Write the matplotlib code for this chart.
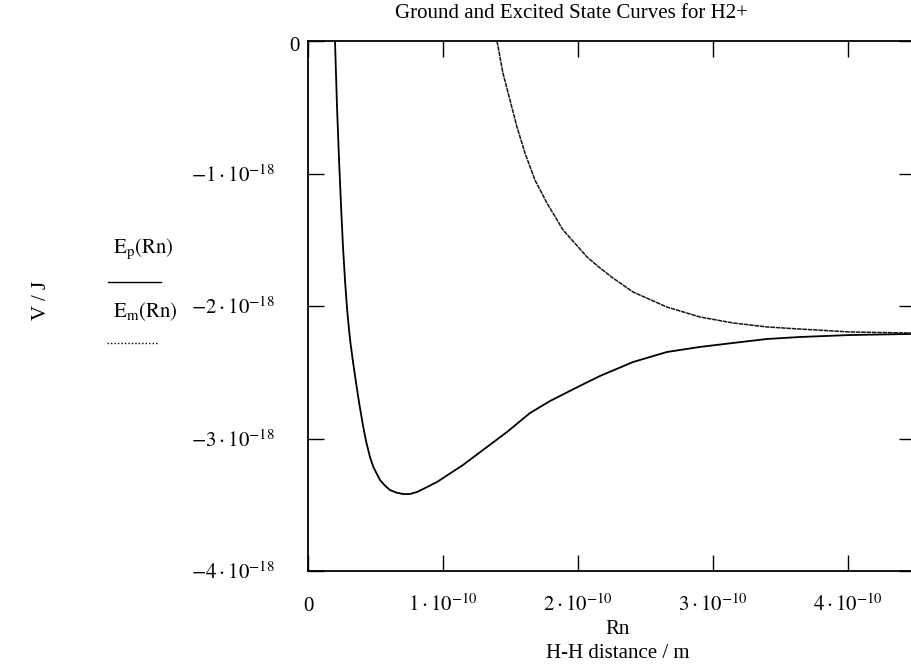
import numpy as np
import matplotlib.pyplot as plt
from matplotlib.lines import Line2D
from matplotlib.transforms import ScaledTranslation

plt.rcParams['font.family'] = ['Liberation Serif', 'DejaVu Serif']
plt.rcParams['mathtext.fontset'] = 'stix'

# ground state curve E_p, R in 1e-10 m, E in 1e-18 J
R_p = [0.200, 0.215, 0.230, 0.245, 0.259, 0.275, 0.290, 0.304, 0.316, 0.333, 0.356, 0.380,
       0.407, 0.430, 0.459, 0.484, 0.533, 0.570, 0.607, 0.657, 0.704, 0.756, 0.807,
       0.879, 0.956, 1.148, 1.326, 1.474, 1.644, 1.793, 2.000, 2.163, 2.407,
       2.659, 2.904, 3.148, 3.400, 3.644, 4.015, 4.467]
E_p = [0.0, -0.500, -0.900, -1.250, -1.550, -1.820, -2.030, -2.181, -2.290, -2.420, -2.580, -2.740,
       -2.900, -3.020, -3.140, -3.215, -3.313, -3.355, -3.389, -3.409, -3.419, -3.419, -3.404,
       -3.368, -3.328, -3.200, -3.064, -2.951, -2.808, -2.717, -2.610, -2.528, -2.423,
       -2.347, -2.309, -2.279, -2.249, -2.234, -2.219, -2.211]

# excited state curve E_m
R_m = [1.400, 1.444, 1.496, 1.548, 1.607, 1.681, 1.770, 1.889, 2.067, 2.163,
       2.259, 2.407, 2.659, 2.904, 3.148, 3.400, 3.644, 4.015, 4.467]
E_m = [0.0, -0.242, -0.445, -0.649, -0.845, -1.049, -1.223, -1.426, -1.630, -1.713,
       -1.789, -1.894, -2.008, -2.083, -2.128, -2.158, -2.174, -2.196, -2.204]

x_ticks = [0, 1e-10, 2e-10, 3e-10, 4e-10]
x_labels = ["0", r"$1\cdot10^{-10}$", r"$2\cdot10^{-10}$", r"$3\cdot10^{-10}$", r"$4\cdot10^{-10}$"]
y_ticks = [0, -1e-18, -2e-18, -3e-18, -4e-18]
y_labels = ["0", r"$-1\cdot10^{-18}$", r"$-2\cdot10^{-18}$", r"$-3\cdot10^{-18}$", r"$-4\cdot10^{-18}$"]

W, H = 911, 670
fig = plt.figure(figsize=(W / 100, H / 100), dpi=100)
ax = fig.add_axes([308 / W, 1 - 571 / H, 607.5 / W, 530 / H])

ax.plot(np.array(R_p) * 1e-10, np.array(E_p) * 1e-18, color='black', lw=1.3)
ax.plot(np.array(R_m) * 1e-10, np.array(E_m) * 1e-18, color='#151515', lw=1.1,
        linestyle=(0, (3, 0.5)))

ax.set_xlim(0, 4.5e-10)
ax.set_ylim(-4e-18, 0)
ax.set_xticks(x_ticks)
ax.set_xticklabels(x_labels)
ax.set_yticks(y_ticks)
ax.set_yticklabels(y_labels)

for s in ax.spines.values():
    s.set_linewidth(1.3)
ax.spines['right'].set_visible(False)

ax.tick_params(direction='in', length=11.5, width=1.0, top=True, right=True,
               labelsize=15, colors='black')
ax.tick_params(axis='y', pad=24)
ax.tick_params(axis='x', pad=29)
for lab in ax.get_xticklabels():
    lab.set_verticalalignment('baseline')
# the "0" on the y axis sits closer to the axis
ylab0 = ax.get_yticklabels()[0]
ylab0.set_transform(ylab0.get_transform() + ScaledTranslation(0.25, -0.03, fig.dpi_scale_trans))

fig.text(571 / W, 1 - 13 / H, "Ground and Excited State Curves for H2+", ha='center', va='center',
         fontsize=15)
fig.text(618 / W, 1 - 630 / H, "Rn", ha='center', va='center', fontsize=15)
fig.text(618 / W, 1 - 654 / H, "H-H distance / m", ha='center', va='center', fontsize=15)
fig.text(41 / W, 1 - 300 / H, "V / J", rotation=90, ha='center', va='center', fontsize=15)

# legend as drawn by Mathcad
fig.text(113 / W, 1 - 253 / H, r"$\mathrm{E_p(Rn)}$", ha='left', va='baseline', fontsize=15)
fig.text(113 / W, 1 - 317 / H, r"$\mathrm{E_m(Rn)}$", ha='left', va='baseline', fontsize=15)
fig.add_artist(Line2D([108 / W, 161 / W], [1 - 282 / H] * 2, color='black', lw=1.0))
fig.add_artist(Line2D([107 / W, 157 / W], [1 - 343 / H] * 2, color='black', lw=1.0,
                      linestyle=(0, (1, 1.5))))

fig.savefig("out.png", dpi=100)
